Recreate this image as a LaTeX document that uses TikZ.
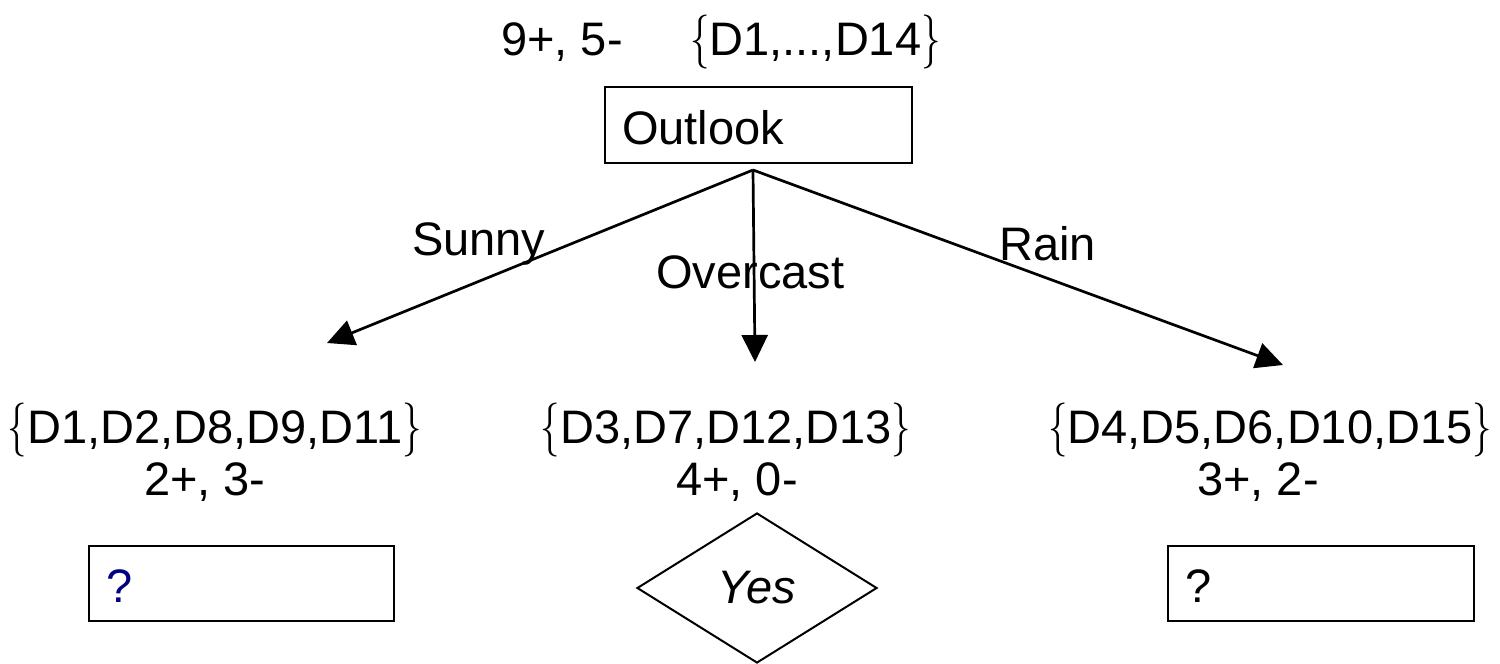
\documentclass[tikz,border=0pt]{standalone}
\usepackage{fontspec}
\setmainfont{Liberation Sans}
\newfontfamily\bracefam{Latin Modern Roman}
\usetikzlibrary{arrows.meta,shapes.geometric}

% thin, narrow curly braces around an example set
\newcommand\bracefont{\bracefam\fontsize{54pt}{60pt}\selectfont}
\newcommand\thinbrace[1]{\scalebox{0.72}[1]{\bracefont#1}}
\newcommand\exset[1]{\thinbrace{\{}#1\thinbrace{\}}}

\tikzset{
  txt/.style={inner sep=0pt, anchor=base west, font=\fontsize{47pt}{56pt}\selectfont},
  box/.style={draw, line width=2pt, rectangle, anchor=north west, inner xsep=17pt,
              inner ysep=0pt, text height=38pt, text depth=0pt,
              align=left, font=\fontsize{47pt}{56pt}\selectfont},
  leaf/.style={draw, line width=2pt, diamond, minimum width=240pt, minimum height=150pt,
               inner sep=0pt, font=\fontsize{47pt}{56pt}\selectfont\itshape},
  branch/.style={line width=2.7pt, -{Triangle[length=27pt,width=26pt]}},
}
\definecolor{qnavy}{RGB}{0,0,128}

\begin{document}
\begin{tikzpicture}[x=1pt,y=-1pt]
  \useasboundingbox (0,0) rectangle (1500,664);

  % root
  \node[txt] (rootcount) at (501,55) {9+, 5-};
  \node[txt] (rootset) at (690,55) {\exset{D1,...,D14}};
  \node[box, text width=273pt, minimum height=76pt] (outlook) at (604,86) {Outlook};
  \coordinate (fork) at (753,170);

  % branch ends
  \coordinate (sunnyend) at (327,343);
  \coordinate (overend) at (755,362);
  \coordinate (rainend) at (1283,365);

  \draw[branch] (fork) -- (sunnyend);
  \draw[branch] (fork) -- (overend);
  \draw[branch] (fork) -- (rainend);

  \node[txt] (sunny) at (412,255) {Sunny};
  \node[txt] (overcast) at (656,288) {Overcast};
  \node[txt] (rain) at (999,260) {Rain};

  % subsets
  \node[txt] (setL) at (7.5,443) {\exset{D1,D2,D8,D9,D11}};
  \node[txt] (countL) at (144,495) {2+, 3-};
  \node[txt] (setM) at (540.5,443) {\exset{D3,D7,D12,D13}};
  \node[txt] (countM) at (676,495) {4+, 0-};
  \node[txt] (setR) at (1048,443) {\exset{D4,D5,D6,D10,D15}};
  \node[txt] (countR) at (1197,495) {3+, 2-};

  % children
  \node[box, text width=271pt, minimum height=75pt, text=qnavy] (leftq) at (88,545) {?};
  \node[leaf] (yes) at (757,588) {Yes};
  \node[box, text width=272pt, minimum height=75pt] (rightq) at (1167,545) {?};
\end{tikzpicture}
\end{document}
